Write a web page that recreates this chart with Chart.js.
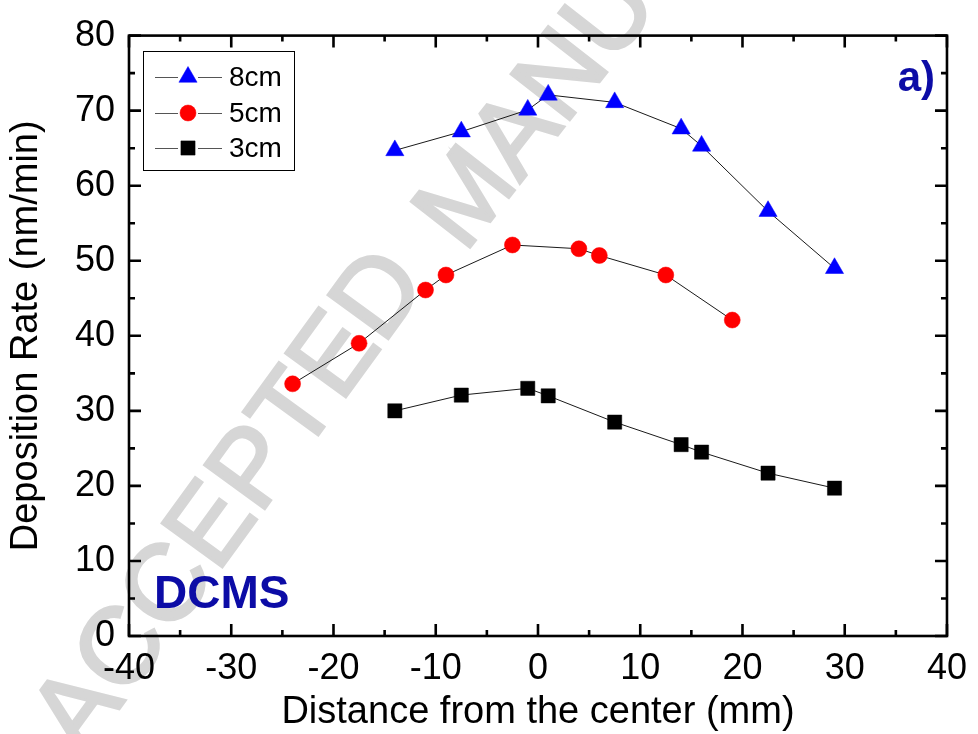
<!DOCTYPE html>
<html><head><meta charset="utf-8">
<script src="https://cdn.jsdelivr.net/npm/chart.js@4"></script>
<style>html,body{margin:0;padding:0;background:#fff;}canvas{display:block;}</style>
</head><body>
<canvas id="c" width="978" height="734"></canvas>
<script>
const seriesNames = ['8cm', '5cm', '3cm'];
const x8 = [-14, -7.5, -1, 1, 7.5, 14, 16, 22.5, 29];
const y8 = [64.7, 67.2, 70.1, 72.1, 71.1, 67.6, 65.3, 56.6, 49.0];
const x5 = [-24, -17.5, -11, -9, -2.5, 4, 6, 12.5, 19];
const y5 = [33.6, 39.0, 46.1, 48.1, 52.1, 51.6, 50.7, 48.1, 42.1];
const x3 = [-14, -7.5, -1, 1, 7.5, 14, 16, 22.5, 29];
const y3 = [30.0, 32.1, 33.0, 32.0, 28.5, 25.5, 24.5, 21.7, 19.7];
const xMajorTicks = [-40, -30, -20, -10, 0, 10, 20, 30, 40];
const xMinorTicks = [-35, -25, -15, -5, 5, 15, 25, 35];
const yMajorTicks = [0, 10, 20, 30, 40, 50, 60, 70, 80];
const yMinorTicks = [5, 15, 25, 35, 45, 55, 65, 75];
const xTitle = 'Distance from the center (mm)';
const yTitle = 'Deposition Rate (nm/min)';
const panelLabel = 'a)';
const methodLabel = 'DCMS';
const watermarkWords = ['ACCEPTED', 'MANUSCRIPT'];

const FONT = '"Liberation Sans", Arial, sans-serif';
const NAVY = '#0c0ca6';

function pts(xs, ys) { return xs.map((x, i) => ({x: x, y: ys[i]})); }

const datasets = [
  {label: seriesNames[0], data: pts(x8, y8), pointStyle: 'triangle', pointRadius: 10.5,
   backgroundColor: '#0000ff', pointBackgroundColor: '#0000ff', pointBorderColor: '#0000ff', pointBorderWidth: 0.5},
  {label: seriesNames[1], data: pts(x5, y5), pointStyle: 'circle', pointRadius: 8,
   backgroundColor: '#ff0000', pointBackgroundColor: '#ff0000', pointBorderColor: '#ff0000', pointBorderWidth: 0.5},
  {label: seriesNames[2], data: pts(x3, y3), pointStyle: 'rect', pointRadius: 10,
   backgroundColor: '#000000', pointBackgroundColor: '#000000', pointBorderColor: '#000000', pointBorderWidth: 0.5}
].map(d => Object.assign(d, {borderColor: '#1a1a1a', borderWidth: 1, showLine: true, fill: false, tension: 0, pointHoverRadius: d.pointRadius}));

function wm(ctx, text, x, y, deg) {
  ctx.save();
  ctx.translate(x, y);
  ctx.rotate(-deg * Math.PI / 180);
  ctx.font = '108px ' + FONT;
  ctx.fillStyle = '#d6d6d6';
  ctx.strokeStyle = '#d6d6d6';
  ctx.lineWidth = 3;
  ctx.textAlign = 'left';
  ctx.textBaseline = 'middle';
  ctx.fillText(text, 0, 0);
  ctx.strokeText(text, 0, 0);
  ctx.restore();
}

const decor = {
  id: 'decor',
  beforeDraw(chart) {
    const ctx = chart.ctx;
    ctx.save();
    ctx.fillStyle = '#fff';
    ctx.fillRect(0, 0, chart.width, chart.height);
    ctx.restore();
    wm(ctx, watermarkWords[0], 59, 741, 54);
    wm(ctx, watermarkWords[1], 441, 236, 52);
  },
  beforeDatasetsDraw(chart) {
    const ctx = chart.ctx;
    const xs = chart.scales.x, ys = chart.scales.y;
    const a = chart.chartArea;
    ctx.save();
    ctx.strokeStyle = '#000';
    ctx.lineWidth = 2.6;
    ctx.lineCap = 'butt';
    ctx.beginPath();
    const tick = (vals, len) => {
      vals.forEach(v => {
        const px = xs.getPixelForValue(v);
        ctx.moveTo(px, a.bottom); ctx.lineTo(px, a.bottom - len);
        ctx.moveTo(px, a.top); ctx.lineTo(px, a.top + len);
      });
    };
    const tickY = (vals, len) => {
      vals.forEach(v => {
        const py = ys.getPixelForValue(v);
        ctx.moveTo(a.left, py); ctx.lineTo(a.left + len, py);
        ctx.moveTo(a.right, py); ctx.lineTo(a.right - len, py);
      });
    };
    tick(xMajorTicks, 12); tick(xMinorTicks, 6);
    tickY(yMajorTicks, 12); tickY(yMinorTicks, 6);
    ctx.stroke();
    ctx.strokeRect(a.left, a.top, a.right - a.left, a.bottom - a.top);
    // labels
    ctx.fillStyle = NAVY;
    ctx.font = 'bold 46px ' + FONT;
    ctx.textBaseline = 'alphabetic';
    ctx.textAlign = 'left';
    ctx.fillText(methodLabel, 154, 608);
    ctx.font = 'bold 42px ' + FONT;
    ctx.textAlign = 'right';
    ctx.fillText(panelLabel, 935, 91);
    ctx.restore();
  },
  afterDraw(chart) {
    const ctx = chart.ctx;
    ctx.save();
    // legend box
    ctx.strokeStyle = '#000';
    ctx.lineWidth = 1;
    ctx.strokeRect(143.5, 51.5, 151, 119);
    const rows = [77, 113, 148];
    chart.data.datasets.forEach((d, i) => {
      const y = rows[i];
      ctx.strokeStyle = '#555';
      ctx.lineWidth = 1;
      ctx.beginPath();
      ctx.moveTo(155, y + 0.5); ctx.lineTo(178, y + 0.5);
      ctx.moveTo(198, y + 0.5); ctx.lineTo(222, y + 0.5);
      ctx.stroke();
      ctx.fillStyle = d.pointBackgroundColor;
      ctx.strokeStyle = d.pointBorderColor;
      ctx.lineWidth = 0.5;
      Chart.helpers.drawPoint(ctx, {pointStyle: d.pointStyle, radius: d.pointRadius, borderWidth: 0.5}, 188, y);
      ctx.fillStyle = '#000';
      ctx.font = '28px ' + FONT;
      ctx.textAlign = 'left';
      ctx.textBaseline = 'middle';
      ctx.fillText(d.label, 229, y + 1);
    });
    ctx.restore();
  }
};

new Chart(document.getElementById('c'), {
  type: 'line',
  data: {datasets: datasets},
  options: {
    responsive: false,
    animation: false,
    devicePixelRatio: 1,
    layout: {padding: {top: 33, right: 26, left: 0, bottom: 0}},
    plugins: {legend: {display: false}, tooltip: {enabled: false}},
    events: [],
    scales: {
      x: {
        type: 'linear', min: -40, max: 40,
        grid: {display: false, drawTicks: false},
        border: {display: false},
        ticks: {stepSize: 10, padding: 11, color: '#000', font: {family: FONT, size: 36, lineHeight: 1.2}, maxRotation: 0},
        title: {display: true, text: xTitle, color: '#000', font: {family: FONT, size: 38, lineHeight: 1}, padding: {top: 0, bottom: 2}},
        afterFit(s) { s.height = 98; }
      },
      y: {
        type: 'linear', min: 0, max: 80,
        grid: {display: false, drawTicks: false},
        border: {display: false},
        ticks: {stepSize: 10, padding: 14, color: '#000', font: {family: FONT, size: 36, lineHeight: 1.2}},
        title: {display: true, text: yTitle, color: '#000', font: {family: FONT, size: 38, lineHeight: 1}, padding: {top: 8, bottom: 0}},
        afterFit(s) { s.width = 129; }
      }
    }
  },
  plugins: [decor]
});
</script>
</body></html>
